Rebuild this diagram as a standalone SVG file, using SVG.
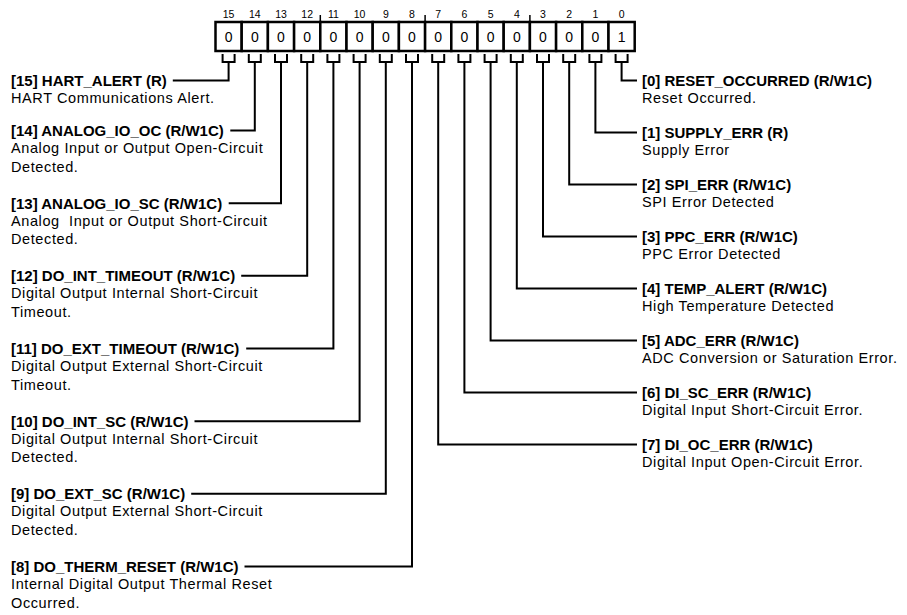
<svg xmlns="http://www.w3.org/2000/svg" width="907" height="615" viewBox="0 0 907 615">
<style>
.bg{fill:#fff}
.cell{fill:#fff;stroke:#000;stroke-width:2.5}
.tick{stroke:#000;stroke-width:1.5}
.bitn{font-family:"Liberation Sans",Arial,sans-serif;font-size:10.5px;text-anchor:middle;fill:#000}
.val{font-family:"Liberation Sans",Arial,sans-serif;font-size:14px;text-anchor:middle;fill:#000}
.t{font-family:"Liberation Sans",Arial,sans-serif;font-size:15px;font-weight:bold;fill:#000}
.d{font-family:"Liberation Sans",Arial,sans-serif;font-size:14.5px;letter-spacing:0.6px;fill:#000;white-space:pre}
.c{fill:none;stroke:#000;stroke-width:2}
</style>
<rect class="bg" x="0" y="0" width="907" height="615"/>
<g id="register">
<g id="bit-numbers">
<text class="bitn" x="228.6" y="18">15</text><text class="bitn" x="254.8" y="18">14</text><text class="bitn" x="281" y="18">13</text><text class="bitn" x="307.2" y="18">12</text>
<text class="bitn" x="333.4" y="18">11</text><text class="bitn" x="359.6" y="18">10</text><text class="bitn" x="385.8" y="18">9</text><text class="bitn" x="412" y="18">8</text>
<text class="bitn" x="438.2" y="18">7</text><text class="bitn" x="464.4" y="18">6</text><text class="bitn" x="490.6" y="18">5</text><text class="bitn" x="516.8" y="18">4</text>
<text class="bitn" x="543" y="18">3</text><text class="bitn" x="569.2" y="18">2</text><text class="bitn" x="595.4" y="18">1</text><text class="bitn" x="621.6" y="18">0</text>
</g>
<g id="ticks">
<line class="tick" x1="320.3" y1="15" x2="320.3" y2="22"/>
<line class="tick" x1="425.1" y1="15" x2="425.1" y2="22"/>
<line class="tick" x1="529.9" y1="15" x2="529.9" y2="22"/>
</g>
<g id="cells">
<rect class="cell" x="215.5" y="22" width="26.2" height="29"/>
<rect class="cell" x="241.7" y="22" width="26.2" height="29"/>
<rect class="cell" x="267.9" y="22" width="26.2" height="29"/>
<rect class="cell" x="294.1" y="22" width="26.2" height="29"/>
<rect class="cell" x="320.3" y="22" width="26.2" height="29"/>
<rect class="cell" x="346.5" y="22" width="26.2" height="29"/>
<rect class="cell" x="372.7" y="22" width="26.2" height="29"/>
<rect class="cell" x="398.9" y="22" width="26.2" height="29"/>
<rect class="cell" x="425.1" y="22" width="26.2" height="29"/>
<rect class="cell" x="451.3" y="22" width="26.2" height="29"/>
<rect class="cell" x="477.5" y="22" width="26.2" height="29"/>
<rect class="cell" x="503.7" y="22" width="26.2" height="29"/>
<rect class="cell" x="529.9" y="22" width="26.2" height="29"/>
<rect class="cell" x="556.1" y="22" width="26.2" height="29"/>
<rect class="cell" x="582.3" y="22" width="26.2" height="29"/>
<rect class="cell" x="608.5" y="22" width="26.2" height="29"/>
</g>
<g id="values">
<text class="val" x="228.6" y="41.5">0</text><text class="val" x="254.8" y="41.5">0</text><text class="val" x="281" y="41.5">0</text><text class="val" x="307.2" y="41.5">0</text>
<text class="val" x="333.4" y="41.5">0</text><text class="val" x="359.6" y="41.5">0</text><text class="val" x="385.8" y="41.5">0</text><text class="val" x="412" y="41.5">0</text>
<text class="val" x="438.2" y="41.5">0</text><text class="val" x="464.4" y="41.5">0</text><text class="val" x="490.6" y="41.5">0</text><text class="val" x="516.8" y="41.5">0</text>
<text class="val" x="543" y="41.5">0</text><text class="val" x="569.2" y="41.5">0</text><text class="val" x="595.4" y="41.5">0</text><text class="val" x="621.6" y="41.5">1</text>
</g>
</g>
<g id="connectors">
<path class="c" d="M222.6 54V62H234.6V54M228.6 62V80.5H172.8"/>
<path class="c" d="M248.8 54V62H260.8V54M254.8 62V130.5H230.3"/>
<path class="c" d="M275 54V62H287V54M281 62V203.2H228.7"/>
<path class="c" d="M301.2 54V62H313.2V54M307.2 62V275.8H241.2"/>
<path class="c" d="M327.4 54V62H339.4V54M333.4 62V348.5H246.2"/>
<path class="c" d="M353.6 54V62H365.6V54M359.6 62V421.2H194.5"/>
<path class="c" d="M379.8 54V62H391.8V54M385.8 62V493.8H191.2"/>
<path class="c" d="M406 54V62H418V54M412 62V566.5H244.5"/>
<path class="c" d="M432.2 54V62H444.2V54M438.2 62V444.5H637"/>
<path class="c" d="M458.4 54V62H470.4V54M464.4 62V392.5H637"/>
<path class="c" d="M484.6 54V62H496.6V54M490.6 62V340.5H637"/>
<path class="c" d="M510.8 54V62H522.8V54M516.8 62V288.5H637"/>
<path class="c" d="M537 54V62H549V54M543 62V236.5H637"/>
<path class="c" d="M563.2 54V62H575.2V54M569.2 62V184.5H637"/>
<path class="c" d="M589.4 54V62H601.4V54M595.4 62V132.5H637"/>
<path class="c" d="M615.6 54V62H627.6V54M621.6 62V80.5H637"/>
</g>
<g id="field-15"><text class="t" x="11" y="86">[15] HART_ALERT (R)</text><text class="d" x="11" y="103">HART Communications Alert.</text></g>
<g id="field-14"><text class="t" x="11" y="136">[14] ANALOG_IO_OC (R/W1C)</text><text class="d" x="11" y="153">Analog Input or Output Open-Circuit</text><text class="d" x="11" y="171.5">Detected.</text></g>
<g id="field-13"><text class="t" x="11" y="208.7">[13] ANALOG_IO_SC (R/W1C)</text><text class="d" x="11" y="225.7">Analog  Input or Output Short-Circuit</text><text class="d" x="11" y="244.2">Detected.</text></g>
<g id="field-12"><text class="t" x="11" y="281.3">[12] DO_INT_TIMEOUT (R/W1C)</text><text class="d" x="11" y="298.3">Digital Output Internal Short-Circuit</text><text class="d" x="11" y="316.8">Timeout.</text></g>
<g id="field-11"><text class="t" x="11" y="354">[11] DO_EXT_TIMEOUT (R/W1C)</text><text class="d" x="11" y="371">Digital Output External Short-Circuit</text><text class="d" x="11" y="389.5">Timeout.</text></g>
<g id="field-10"><text class="t" x="11" y="426.7">[10] DO_INT_SC (R/W1C)</text><text class="d" x="11" y="443.7">Digital Output Internal Short-Circuit</text><text class="d" x="11" y="462.2">Detected.</text></g>
<g id="field-9"><text class="t" x="11" y="499.3">[9] DO_EXT_SC (R/W1C)</text><text class="d" x="11" y="516.3">Digital Output External Short-Circuit</text><text class="d" x="11" y="534.8">Detected.</text></g>
<g id="field-8"><text class="t" x="11" y="572">[8] DO_THERM_RESET (R/W1C)</text><text class="d" x="11" y="589">Internal Digital Output Thermal Reset</text><text class="d" x="11" y="607.5">Occurred.</text></g>
<g id="field-0"><text class="t" x="642" y="86">[0] RESET_OCCURRED (R/W1C)</text><text class="d" x="642" y="103">Reset Occurred.</text></g>
<g id="field-1"><text class="t" x="642" y="138">[1] SUPPLY_ERR (R)</text><text class="d" x="642" y="155">Supply Error</text></g>
<g id="field-2"><text class="t" x="642" y="190">[2] SPI_ERR (R/W1C)</text><text class="d" x="642" y="207">SPI Error Detected</text></g>
<g id="field-3"><text class="t" x="642" y="242">[3] PPC_ERR (R/W1C)</text><text class="d" x="642" y="259">PPC Error Detected</text></g>
<g id="field-4"><text class="t" x="642" y="294">[4] TEMP_ALERT (R/W1C)</text><text class="d" x="642" y="311">High Temperature Detected</text></g>
<g id="field-5"><text class="t" x="642" y="346">[5] ADC_ERR (R/W1C)</text><text class="d" x="642" y="363">ADC Conversion or Saturation Error.</text></g>
<g id="field-6"><text class="t" x="642" y="398">[6] DI_SC_ERR (R/W1C)</text><text class="d" x="642" y="415">Digital Input Short-Circuit Error.</text></g>
<g id="field-7"><text class="t" x="642" y="450">[7] DI_OC_ERR (R/W1C)</text><text class="d" x="642" y="467">Digital Input Open-Circuit Error.</text></g>
</svg>
